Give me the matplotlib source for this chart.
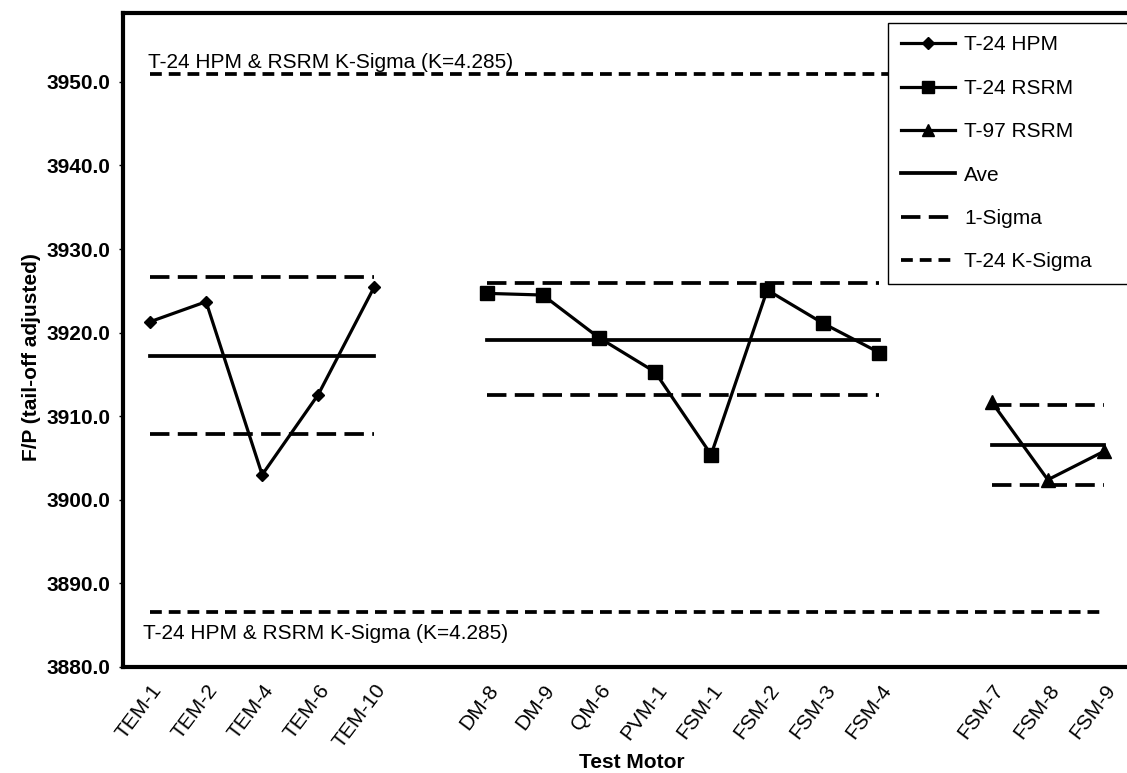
import matplotlib
matplotlib.use("Agg")
import matplotlib.pyplot as plt
import matplotlib.transforms as mtransforms
from matplotlib.lines import Line2D

plt.rcParams['font.family'] = ['Liberation Sans', 'DejaVu Sans']
plt.rcParams['lines.scale_dashes'] = False

# --- data ---
hpm_motors = ['TEM-1', 'TEM-2', 'TEM-4', 'TEM-6', 'TEM-10']
rsrm_motors = ['DM-8', 'DM-9', 'QM-6', 'PVM-1', 'FSM-1', 'FSM-2', 'FSM-3', 'FSM-4']
t97_motors = ['FSM-7', 'FSM-8', 'FSM-9']

hpm_fp = [3921.3, 3923.7, 3903.0, 3912.6, 3925.5]
rsrm_fp = [3924.7, 3924.5, 3919.4, 3915.3, 3905.4, 3925.1, 3921.1, 3917.6]
t97_fp = [3911.7, 3902.4, 3905.8]

hpm_ave, rsrm_ave, t97_ave = 3917.2, 3919.1, 3906.6
hpm_sigma = [3907.9, 3926.6]
rsrm_sigma = [3912.5, 3925.9]
t97_sigma = [3901.8, 3911.3]
k_sigma = [3886.6, 3951.0]
k_label = 'T-24 HPM & RSRM K-Sigma (K=4.285)'

# category order, with an empty slot between groups
motor_order = hpm_motors + [''] + rsrm_motors + [''] + t97_motors
pos = {m: i for i, m in enumerate(motor_order) if m}

fig = plt.figure(figsize=(11.27, 7.73), dpi=100)
ax = fig.add_axes([123 / 1127, 1 - 667 / 773, 1009 / 1127, (667 - 12.5) / 773])

sigma_dash = (0, (14, 6))
k_dash = (0, (8.5, 5))
lw = 2.3

groups = [(hpm_motors, hpm_fp, hpm_ave, hpm_sigma, 'D', 6),
          (rsrm_motors, rsrm_fp, rsrm_ave, rsrm_sigma, 's', 10),
          (t97_motors, t97_fp, t97_ave, t97_sigma, '^', 10)]

for motors, fp, ave, sig, mk, ms in groups:
    xs = [pos[m] for m in motors]
    ends = [xs[0], xs[-1]]
    ax.plot(ends, [ave, ave], color='black', lw=2.7)
    for s in sig:
        ax.plot(ends, [s, s], color='black', lw=2.7, linestyle=sigma_dash)
    ax.plot(xs, fp, color='black', lw=lw, marker=mk, ms=ms, zorder=3)

all_x = [pos[m] for m in motor_order if m]
for k in k_sigma:
    ax.plot([all_x[0], all_x[-1]], [k, k], color='black', lw=2.7, linestyle=k_dash)

ax.text(all_x[0] - 0.03, k_sigma[1] + 0.65, k_label, fontsize=15, va='baseline', ha='left')
ax.text(all_x[0] - 0.12, 3883.3, k_label, fontsize=15, va='baseline', ha='left')

ax.set_xlim(-0.48, 17.5)
ax.set_ylim(3880, 3958.3)

yt = list(range(3880, 3951, 10))
ax.set_yticks(yt, [f'{v:.1f}' for v in yt])
for lbl in ax.get_yticklabels():
    lbl.set_fontweight('bold')
ax.tick_params(axis='y', direction='out', length=3, width=1, labelsize=15, pad=6)

ax.set_xticks(all_x, [m for m in motor_order if m], rotation=53, ha='right',
              va='center', rotation_mode='anchor')
ax.tick_params(axis='x', length=0, labelsize=15, pad=14)
shift = mtransforms.ScaledTranslation(8 / 100, 0, fig.dpi_scale_trans)
for lbl in ax.get_xticklabels():
    lbl.set_transform(lbl.get_transform() + shift)

ax.set_xlabel('Test Motor', fontsize=15, fontweight='bold')
ax.set_ylabel('F/P (tail-off adjusted)', fontsize=15, fontweight='bold')
ax.xaxis.set_label_coords(0.504, -0.132)
ax.yaxis.set_label_coords(-0.081, 0.474)

for sp in ax.spines.values():
    sp.set_linewidth(3)

handles = [Line2D([], [], color='black', lw=lw, marker='D', ms=6),
           Line2D([], [], color='black', lw=lw, marker='s', ms=8),
           Line2D([], [], color='black', lw=lw, marker='^', ms=8),
           Line2D([], [], color='black', lw=2.7),
           Line2D([], [], color='black', lw=2.7, linestyle=sigma_dash),
           Line2D([], [], color='black', lw=2.7, linestyle=k_dash)]
labels = ['T-24 HPM', 'T-24 RSRM', 'T-97 RSRM', 'Ave', '1-Sigma', 'T-24 K-Sigma']
leg = ax.legend(handles, labels, loc='upper left',
                bbox_to_anchor=(888 / 1127, 1 - 23 / 773, 0.25, 0.0),
                bbox_transform=fig.transFigure, mode='expand', fontsize=15,
                handlelength=2.6, handletextpad=0.45, labelspacing=1.17,
                borderpad=0.6, borderaxespad=0, fancybox=False, framealpha=1)
leg.get_frame().set_edgecolor('black')
leg.get_frame().set_linewidth(1)

fig.savefig('out.png', dpi=100)
